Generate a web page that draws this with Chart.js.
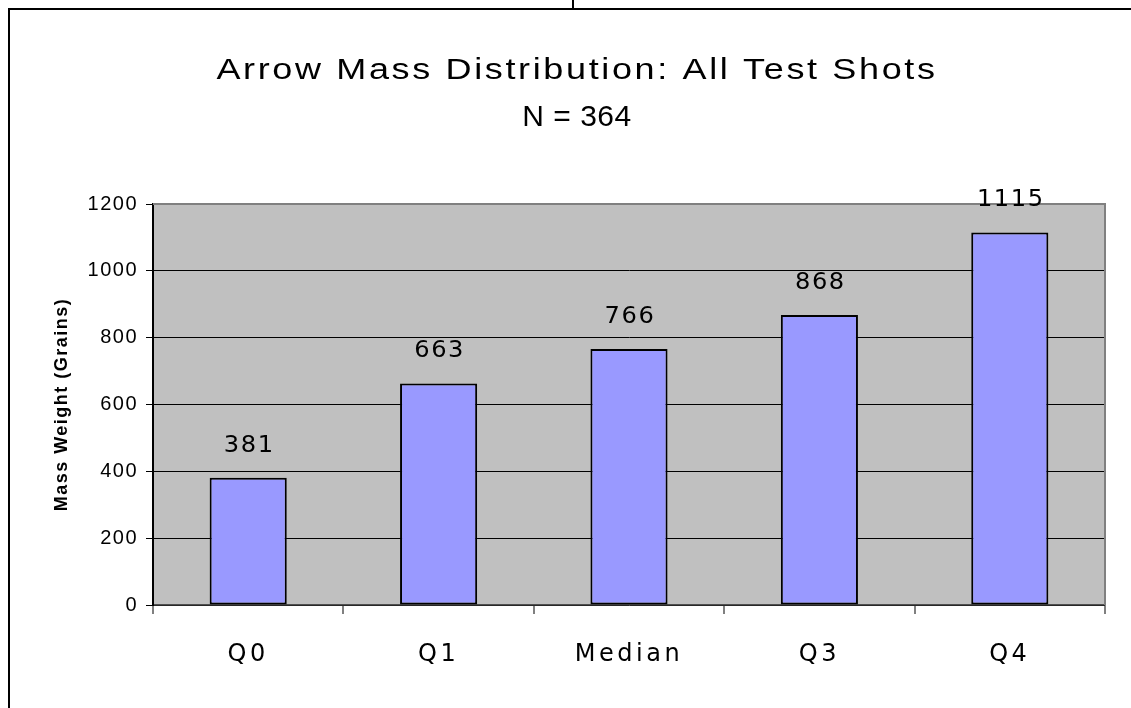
<!DOCTYPE html>
<html>
<head>
<meta charset="utf-8">
<title>Arrow Mass Distribution</title>
<script src="https://cdn.jsdelivr.net/npm/chart.js"></script>
<style>
  html, body { margin: 0; padding: 0; background: #fff; }
  #wrap { width: 1131px; height: 708px; }
</style>
</head>
<body>
<div id="wrap"><canvas id="massChart" width="1131" height="708"></canvas></div>
<script>
// data
var categories = ["Q0", "Q1", "Median", "Q3", "Q4"];
var massValues = [381, 663, 766, 868, 1115];
var yMin = 0, yMax = 1200, yStep = 200;
var titleLines = ["Arrow Mass Distribution: All Test Shots", "N = 364"];
var yTitle = "Mass Weight (Grains)";

// wraps a scale's text drawing so it gets its own letter spacing
function spaceScale(scale, labelGap, titleGap) {
  if (scale._spaced) return;
  var drawLabels = scale.drawLabels, drawTitle = scale.drawTitle;
  scale.drawLabels = function(area) {
    var c = this.ctx; c.save(); c.letterSpacing = labelGap; drawLabels.call(this, area); c.restore();
  };
  scale.drawTitle = function() {
    var c = this.ctx; c.save(); c.letterSpacing = titleGap; drawTitle.call(this); c.restore();
  };
  scale._spaced = true;
}

// text a little wider than the font gives, like the original
function wideText(c, text, x, y, sx, gap) {
  c.save();
  c.translate(x, y);
  c.scale(sx, 1);
  c.letterSpacing = gap;
  c.fillText(text, 0, 0);
  c.restore();
}

var framePlugin = {
  id: "frame",
  beforeDraw: function(chart) {
    var a = chart.chartArea, c = chart.ctx;
    spaceScale(chart.scales.x, "3.5px", "0px");
    spaceScale(chart.scales.y, "1.5px", "1.5px");
    c.save();
    c.fillStyle = "#C0C0C0";
    c.fillRect(a.left, a.top, a.right - a.left, a.bottom - a.top);
    c.restore();
  },
  beforeDatasetsDraw: function(chart) {
    var a = chart.chartArea, c = chart.ctx;
    // grey top and right edge of the plot area
    c.save();
    c.strokeStyle = "#808080";
    c.lineWidth = 2;
    c.beginPath();
    c.moveTo(a.left, a.top);
    c.lineTo(a.right, a.top);
    c.lineTo(a.right, a.bottom);
    c.stroke();
    c.restore();
  },
  afterDatasetsDraw: function(chart) {
    var c = chart.ctx;
    var meta = chart.getDatasetMeta(0);
    c.save();
    c.font = "23px 'DejaVu Sans'";
    c.fillStyle = "#000";
    c.textAlign = "center";
    c.textBaseline = "middle";
    meta.data.forEach(function(bar, i) {
      wideText(c, String(massValues[i]), bar.x + 1, bar.y - 32, 1.05, "1.5px");
    });
    c.restore();
  },
  afterDraw: function(chart) {
    var c = chart.ctx;
    c.save();
    // outer frame
    c.strokeStyle = "#000";
    c.lineWidth = 2;
    c.beginPath();
    c.moveTo(1131, 9);
    c.lineTo(9, 9);
    c.lineTo(9, 708);
    c.stroke();
    c.beginPath();
    c.moveTo(573, 0);
    c.lineTo(573, 9);
    c.stroke();
    // titles
    c.fillStyle = "#000";
    c.textAlign = "center";
    c.textBaseline = "middle";
    c.font = "30px 'Liberation Sans'";
    wideText(c, titleLines[0], 577, 71, 1.2, "2.2px");
    wideText(c, titleLines[1], 577, 118, 1.0, "0.5px");
    c.restore();
  }
};

var ctx = document.getElementById("massChart");
var chart = new Chart(ctx, {
  type: "bar",
  data: {
    labels: categories,
    datasets: [{
      label: "Mass",
      data: massValues,
      backgroundColor: "#9999FF",
      borderColor: "#000",
      borderWidth: 2,
      borderSkipped: false,
      categoryPercentage: 1,
      barPercentage: 0.405
    }]
  },
  options: {
    responsive: false,
    animation: false,
    devicePixelRatio: 1,
    layout: { padding: { top: 204, right: 26, left: 0, bottom: 0 } },
    plugins: {
      legend: { display: false },
      tooltip: { enabled: false },
      title: { display: false }
    },
    scales: {
      x: {
        grid: {
          offset: true,
          drawOnChartArea: false,
          tickLength: 9,
          color: "#808080",
          lineWidth: 2
        },
        border: { color: "#505050", width: 1.5 },
        ticks: {
          padding: 26,
          color: "#000",
          font: { family: "'DejaVu Sans'", size: 24 }
        },
        afterFit: function(scale) { scale.height = 103; }
      },
      y: {
        min: yMin,
        max: yMax,
        grid: {
          color: "#000",
          lineWidth: 1,
          tickLength: 7,
          tickColor: "#000"
        },
        border: { color: "#000", width: 2 },
        ticks: {
          stepSize: yStep,
          padding: 8,
          color: "#000",
          font: { family: "'Liberation Sans'", size: 20 },
          callback: function(value) { return String(value); }
        },
        title: {
          display: true,
          text: yTitle,
          color: "#000",
          padding: { top: 51, bottom: 0 },
          font: { family: "'Liberation Sans'", size: 18, weight: "bold", lineHeight: 1.2 }
        },
        afterFit: function(scale) { scale.width = 153; }
      }
    }
  },
  plugins: [framePlugin]
});
</script>
</body>
</html>
